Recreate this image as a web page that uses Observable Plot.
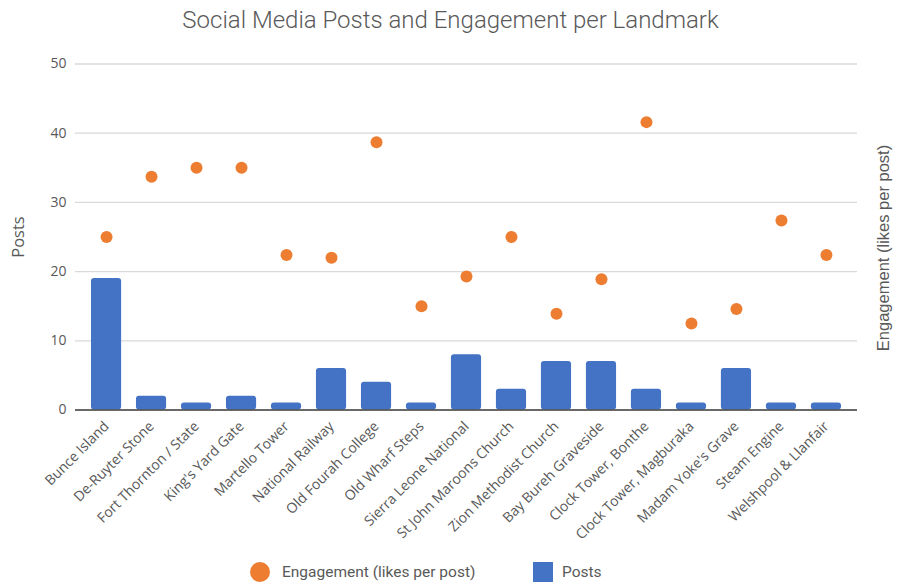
<!DOCTYPE html>
<html>
<head>
<meta charset="utf-8">
<script src="https://cdn.jsdelivr.net/npm/d3@7"></script>
<script src="https://cdn.jsdelivr.net/npm/@observablehq/plot@0.6"></script>
<style>
  html, body { margin: 0; padding: 0; background: #fff; }
  body { width: 901px; height: 582px; overflow: hidden; font-family: "Open Sans", sans-serif; }
  #title { height: 40px; line-height: 40px; text-align: center; font-family: Roboto, "Open Sans", sans-serif; font-weight: 300; font-size: 24px; color: #595959; }
  #legend { position: relative; height: 32px; font-size: 15.5px; color: #595959; font-family: Roboto, sans-serif; }
  .sw { position: absolute; top: 12px; width: 20px; height: 20px; }
  .lt { position: absolute; top: 12px; line-height: 20px; }
</style>
</head>
<body>
<div id="title">Social Media Posts and Engagement per Landmark</div>
<div id="chart"></div>
<div id="legend">
  <div class="sw" style="left:250px;border-radius:50%;background:#ED7D31"></div>
  <div class="lt" style="left:282px">Engagement (likes per post)</div>
  <div class="sw" style="left:533px;background:#4472C4"></div>
  <div class="lt" style="left:562px">Posts</div>
</div>
<script>
const landmarks = ["Bunce Island", "De-Ruyter Stone", "Fort Thornton / State", "King's Yard Gate", "Martello Tower", "National Railway", "Old Fourah College", "Old Wharf Steps", "Sierra Leone National", "St John Maroons Church", "Zion Methodist Church", "Bay Bureh Graveside", "Clock Tower, Bonthe", "Clock Tower, Magburaka", "Madam Yoke's Grave", "Steam Engine", "Welshpool & Llanfair"];
const posts = [19, 2, 1, 2, 1, 6, 4, 1, 8, 3, 7, 7, 3, 1, 6, 1, 1];
const engagement = [25, 33.7, 35, 35, 22.4, 22, 38.7, 15, 19.3, 25, 13.9, 18.9, 41.6, 12.5, 14.6, 27.4, 22.4];
const yTicks = [0, 10, 20, 30, 40, 50];

const data = landmarks.map((name, i) => ({name, posts: posts[i], engagement: engagement[i]}));

const chart = Plot.plot({
  width: 901,
  height: 510,
  marginTop: 23.5,
  marginBottom: 140.5,
  marginLeft: 75,
  marginRight: 44,
  style: {fontFamily: "'Open Sans', sans-serif", fontSize: "14px", color: "#595959", background: "#fff"},
  x: {domain: landmarks, paddingInner: 0.33, paddingOuter: 0.355, round: false, label: null},
  y: {domain: [0, 50], label: null},
  marks: [
    Plot.gridY(yTicks, {stroke: "#d9d9d9", strokeOpacity: 1, strokeWidth: 1.3}),
    Plot.axisY(yTicks, {tickSize: 0, tickPadding: 9, label: null, fontSize: 14, fill: "#595959"}),
    Plot.axisX({tickRotate: -45, tickSize: 0, tickPadding: 14, label: null, fontSize: 14, fill: "#595959"}),
    Plot.barY(data, {x: "name", y: "posts", fill: "#4472C4", rx: 3}),
    Plot.ruleY([0], {stroke: "#404040", strokeWidth: 1.5}),
    Plot.dot(data, {x: "name", y: "engagement", r: 6, fill: "#ED7D31", stroke: "none"}),
    Plot.text(["Posts"], {frameAnchor: "left", dx: -57, rotate: -90, fontSize: 16.5, fill: "#595959", textAnchor: "middle"}),
    Plot.text(["Engagement (likes per post)"], {frameAnchor: "right", dx: 26, dy: 11, rotate: -90, fontSize: 16.5, fontFamily: "'Liberation Sans', Arial, sans-serif", fill: "#595959", textAnchor: "middle"})
  ]
});
document.getElementById("chart").appendChild(chart);
</script>
</body>
</html>
